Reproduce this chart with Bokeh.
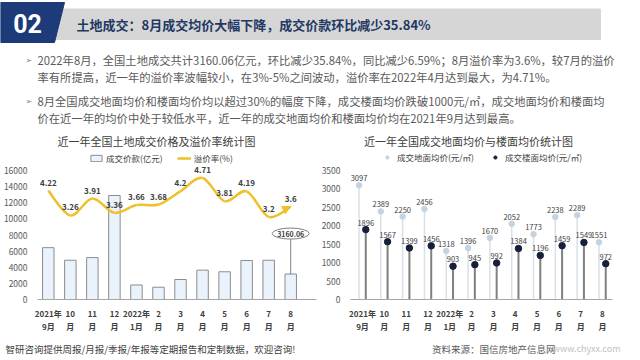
from bokeh.plotting import figure
from bokeh.models import (Range1d, FixedTicker, Legend, LegendItem, Arrow, NormalHead,
                          ColumnDataSource)
from bokeh.layouts import column, row
from bokeh.transform import dodge
from bokeh.core.properties import value
from bokeh.embed import file_html
from bokeh.resources import INLINE

FONT = "Noto Sans CJK SC"

# ---------------- data ----------------
months = ["2021年\n9月", "10\n月", "11\n月", "12\n月", "2022年\n1月", "2\n月",
          "3\n月", "4\n月", "5\n月", "6\n月", "7\n月", "8\n月"]
deal_amount = [6430, 4870, 5200, 12900, 1800, 1520, 2480, 3640, 3440, 4840, 4870, 3160.06]
premium_rate = [4.22, 3.26, 3.91, 3.36, 3.66, 3.68, 4.2, 4.71, 3.81, 4.19, 3.2, 3.6]
land_price = [3097, 2389, 2250, 2456, 1318, 1396, 1670, 2052, 1773, 2238, 2289, 1551]
floor_price = [1896, 1567, 1399, 1456, 903, 945, 992, 1384, 1196, 1459, 1549, 972]
left_ticks = [0, 2000, 4000, 6000, 8000, 10000, 12000, 14000, 16000]
right_ticks = [0, 500, 1000, 1500, 2000, 2500, 3000, 3500]

header_title = "土地成交：8月成交均价大幅下降，成交价款环比减少35.84%"
para1 = ["2022年8月，全国土地成交共计3160.06亿元，环比减少35.84%，同比减少6.59%；8月溢价率为3.6%，较7月的溢价",
         "率有所提高，近一年的溢价率波幅较小，在3%-5%之间波动，溢价率在2022年4月达到最大，为4.71%。"]
para2 = ["8月全国成交地面均价和楼面均价均以超过30%的幅度下降，成交楼面均价跌破1000元/㎡，成交地面均价和楼面均",
         "价在近一年的均价中处于较低水平，近一年的成交地面均价和楼面均价均在2021年9月达到最高。"]
left_title = "近一年全国土地成交价格及溢价率统计图"
right_title = "近一年全国成交地面均价与楼面均价统计图"
footer_left = "智研咨询提供周报/月报/季报/年报等定期报告和定制数据，欢迎咨询!"
footer_right = "资料来源：国信房地产信息网"
footer_site = "www.chyxx.com"

NAVY = "#1C3B78"
YEL = "#EEC12B"
TXT = "#404040"
GRAYTXT = "#595959"
W = 624

def base(fig):
    fig.grid.visible = False
    fig.outline_line_color = None
    return fig

# ---------------- header (banner, text, chart titles) ----------------
HH = 148
hdr = figure(width=W, height=HH, x_range=Range1d(0, W), y_range=Range1d(HH, 0),
             output_backend="svg", toolbar_location=None, min_border=0)
hdr.axis.visible = False
base(hdr)
hdr.patch([50, 600, 600, 40], [8.5, 8.5, 39, 39], color="#D6D6D6")
hdr.patch([0, 64, 54, 0], [2, 2, 42, 42], color=NAVY)
hdr.text(x=[27], y=[23], text=["02"], text_font=value("Roboto"), text_font_size="25px",
         text_font_style="bold", text_color="white", text_align="center", text_baseline="middle")
hdr.text(x=[76], y=[23.5], text=[header_title], text_font=value(FONT), text_font_size="13px",
         text_font_style="bold", text_color="#1F3864", text_align="left", text_baseline="middle")
lines = para1 + para2
ys = [59.5, 76.5, 100.5, 117]
hdr.text(x=[37] * 4, y=ys, text=lines, text_font=value(FONT), text_font_size="11.3px",
         text_color=GRAYTXT, text_align="left", text_baseline="middle")
hdr.text(x=[25, 25], y=[ys[0], ys[2]], text=["➢", "➢"], text_font=value("DejaVu Sans"),
         text_font_size="8px", text_color="#7F7F7F", text_align="left", text_baseline="middle")
hdr.text(x=[156, 468], y=[140, 140], text=[left_title, right_title], text_font=value(FONT),
         text_font_size="11px", text_color=TXT, text_align="center", text_baseline="middle")

# ---------------- left chart ----------------
FRAME_H = 151
TOP_FRAC = 151 / 129  # frame extends above the top tick to hold the legend
idx = list(range(len(months)))
lf = figure(frame_width=279, frame_height=FRAME_H, x_range=Range1d(-0.49, 12.17),
            y_range=Range1d(0, 16000 * TOP_FRAC),
            output_backend="svg", toolbar_location=None,
            min_border_left=35, min_border_right=2, min_border_top=0, min_border_bottom=0)
base(lf)
lf.extra_y_ranges = {"rate": Range1d(0, 5 * TOP_FRAC)}
bars = lf.vbar(x=idx, top=deal_amount, width=0.52, fill_color="#EAF3FC",
               line_color="#8C8C8C", line_width=1)

# smooth line via Catmull-Rom -> Bezier
n = len(premium_rate)
x0, y0, x1, y1, cx0, cy0, cx1, cy1 = [], [], [], [], [], [], [], []
for i in range(n - 1):
    p0 = (idx[max(i - 1, 0)], premium_rate[max(i - 1, 0)])
    p1 = (idx[i], premium_rate[i])
    p2 = (idx[i + 1], premium_rate[i + 1])
    p3 = (idx[min(i + 2, n - 1)], premium_rate[min(i + 2, n - 1)])
    x0.append(p1[0]); y0.append(p1[1]); x1.append(p2[0]); y1.append(p2[1])
    cx0.append(p1[0] + (p2[0] - p0[0]) / 6); cy0.append(p1[1] + (p2[1] - p0[1]) / 6)
    cx1.append(p2[0] - (p3[0] - p1[0]) / 6); cy1.append(p2[1] - (p3[1] - p1[1]) / 6)
curve = lf.bezier(x0=x0, y0=y0, x1=x1, y1=y1, cx0=cx0, cy0=cy0, cx1=cx1, cy1=cy1,
                  line_color=YEL, line_width=2.5, y_range_name="rate")
lf.add_layout(Arrow(end=NormalHead(size=8, fill_color=YEL, line_color=YEL),
                    x_start=cx1[-1], y_start=cy1[-1], x_end=idx[-1], y_end=premium_rate[-1],
                    line_color=YEL, line_width=2.5, y_range_name="rate"))
lf.text(x=idx, y=premium_rate, text=[f"{v:g}" for v in premium_rate], y_range_name="rate",
        y_offset=-5, text_font=value(FONT), text_font_size="8px", text_font_style="bold",
        text_color=TXT, text_align="center", text_baseline="bottom")

# callout on the last bar
callout_y = 8180
lf.segment(x0=[idx[-1]], y0=[deal_amount[-1]], x1=[idx[-1]], y1=[callout_y],
           line_color="#7F7F7F", line_width=1)
lf.ellipse(x=[idx[-1]], y=[callout_y], width=37, height=11, width_units="screen",
           height_units="screen", fill_color="white", line_color="#7F7F7F", line_width=1)
lf.text(x=[idx[-1]], y=[callout_y], text=[f"{deal_amount[-1]:.2f}"], text_font=value(FONT),
        text_font_size="7px", text_font_style="bold", text_color=TXT,
        text_align="center", text_baseline="middle")

lf.yaxis.ticker = FixedTicker(ticks=left_ticks)
lf.xaxis.ticker = FixedTicker(ticks=idx)
lf.xaxis.major_label_overrides = {i: m for i, m in zip(idx, months)}

# ---------------- right chart ----------------
rf = figure(frame_width=262, frame_height=FRAME_H, x_range=Range1d(-0.55, 11.46),
            y_range=Range1d(0, 3500 * TOP_FRAC),
            output_backend="svg", toolbar_location=None,
            min_border_left=22, min_border_right=24, min_border_top=0, min_border_bottom=0)
base(rf)
src = ColumnDataSource(dict(x=idx, land=land_price, floor=floor_price,
                            land_t=[str(v) for v in land_price],
                            floor_t=[str(v) for v in floor_price]))
LIGHT = "#C5D2E0"
DARK = "#17203A"
xl = dodge("x", -0.16, range=rf.x_range)
xd = dodge("x", 0.15, range=rf.x_range)
rf.segment(x0=xl, y0=0, x1=xl, y1="land", source=src, line_color="#D8E0EA", line_width=1.5)
rf.segment(x0=xd, y0=0, x1=xd, y1="floor", source=src, line_color="#808080", line_width=2)
land_r = rf.scatter(x=xl, y="land", source=src, size=5.5, fill_color=LIGHT, line_color=LIGHT)
floor_r = rf.scatter(x=xd, y="floor", source=src, size=6.5, fill_color=DARK, line_color=DARK)
rf.text(x=xl, y="land", text="land_t", source=src, y_offset=-4, text_font=value(FONT),
        text_font_size="7.5px", text_color=TXT, text_align="center", text_baseline="bottom")
rf.text(x=xd, y="floor", text="floor_t", source=src, y_offset=-4, text_font=value(FONT),
        text_font_size="7.5px", text_color=TXT, text_align="center", text_baseline="bottom")
rf.yaxis.ticker = FixedTicker(ticks=right_ticks)
rf.xaxis.ticker = FixedTicker(ticks=idx)
rf.xaxis.major_label_overrides = {i: m for i, m in zip(idx, months)}

# ---------------- common styling ----------------
for fig, loc, items in [(lf, (52, FRAME_H - 16), [LegendItem(label="成交价款(亿元)", renderers=[bars]),
                                                  LegendItem(label="溢价率(%)", renderers=[curve])]),
                        (rf, "top_center", [LegendItem(label="成交地面均价(元/㎡)", renderers=[land_r]),
                                            LegendItem(label="成交楼面均价(元/㎡)", renderers=[floor_r])])]:
    fig.yaxis.axis_line_color = None
    fig.yaxis.major_tick_line_color = None
    fig.yaxis.minor_tick_line_color = None
    fig.yaxis.major_label_text_font = FONT
    fig.yaxis.major_label_text_font_size = "8.5px"
    fig.yaxis.major_label_text_color = GRAYTXT
    fig.yaxis.major_label_standoff = 4
    fig.xaxis.axis_line_color = "#A6A6A6"
    fig.xaxis.major_tick_line_color = None
    fig.xaxis.minor_tick_line_color = None
    fig.xaxis.major_label_text_font = FONT
    fig.xaxis.major_label_text_font_size = "8px"
    fig.xaxis.major_label_text_font_style = "bold"
    fig.xaxis.major_label_text_color = TXT
    fig.xaxis.major_label_standoff = 2
    leg = Legend(items=items, orientation="horizontal", location=loc,
                 label_text_font=FONT, label_text_font_size="8.5px", label_text_color=TXT,
                 glyph_height=8, glyph_width=14, label_height=10, padding=0, margin=3,
                 spacing=14, label_standoff=3, border_line_color=None,
                 background_fill_alpha=0)
    fig.add_layout(leg, "center")

# ---------------- footer ----------------
FH = 23
ftr = figure(width=W, height=FH, x_range=Range1d(0, W), y_range=Range1d(FH, 0),
             output_backend="svg", toolbar_location=None, min_border=0)
ftr.axis.visible = False
base(ftr)
ftr.text(x=[5], y=[14], text=[footer_left], text_font=value(FONT), text_font_size="9.5px",
         text_color=TXT, text_align="left", text_baseline="middle")
ftr.text(x=[555], y=[14], text=[footer_right], text_font=value(FONT), text_font_size="9.5px",
         text_color=GRAYTXT, text_align="right", text_baseline="middle")
ftr.text(x=[620], y=[14], text=[footer_site], text_font=value(FONT), text_font_size="9px",
         text_color="#BFBFBF", text_align="right", text_baseline="middle")

layout = column(hdr, row(lf, rf), ftr)
open("out.html", "w").write(file_html(layout, INLINE))
